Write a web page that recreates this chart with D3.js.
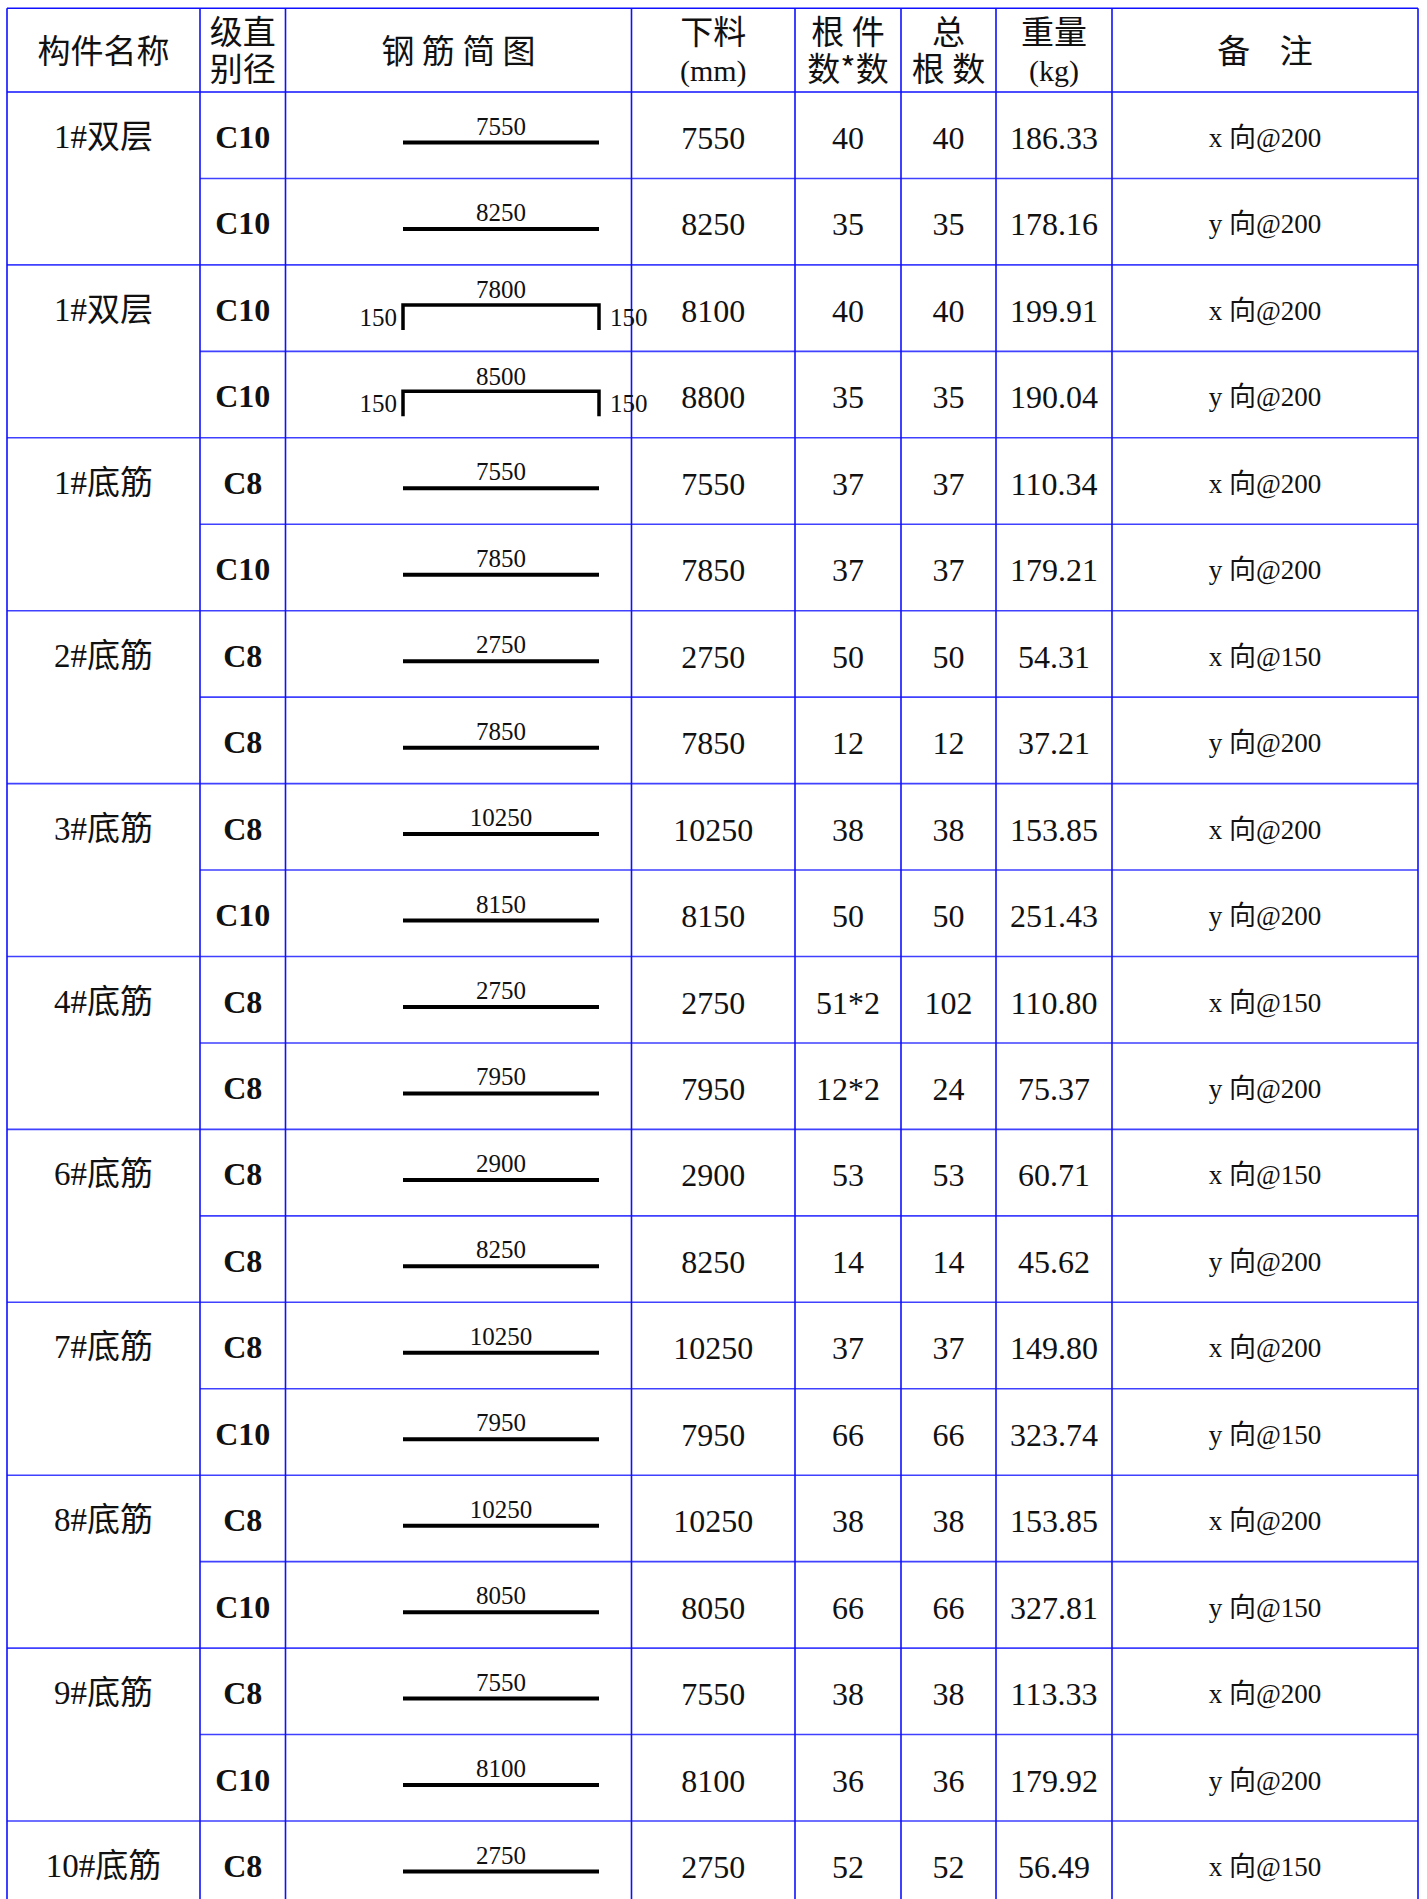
<!DOCTYPE html>
<html>
<head>
<meta charset="utf-8">
<script src="https://cdn.jsdelivr.net/npm/d3@7/dist/d3.min.js"></script>
<style>
  html, body { margin: 0; padding: 0; background: #ffffff; }
  svg { display: block; }
  text { white-space: pre; }
</style>
</head>
<body>
<div id="chart"></div>
<script>
// ---- table data ----
var groupNames = ["1#双层", "1#双层", "1#底筋", "2#底筋", "3#底筋", "4#底筋", "6#底筋", "7#底筋", "8#底筋", "9#底筋", "10#底筋"];
var grades = ["C10", "C10", "C10", "C10", "C8", "C10", "C8", "C8", "C8", "C10", "C8", "C8", "C8", "C8", "C8", "C10", "C8", "C10", "C8", "C10", "C8"];
var shapeLengths = [7550, 8250, 7800, 8500, 7550, 7850, 2750, 7850, 10250, 8150, 2750, 7950, 2900, 8250, 10250, 7950, 10250, 8050, 7550, 8100, 2750];
var hookLengths = [0, 0, 150, 150, 0, 0, 0, 0, 0, 0, 0, 0, 0, 0, 0, 0, 0, 0, 0, 0, 0];
var cutLengths = [7550, 8250, 8100, 8800, 7550, 7850, 2750, 7850, 10250, 8150, 2750, 7950, 2900, 8250, 10250, 7950, 10250, 8050, 7550, 8100, 2750];
var pieceCounts = ["40", "35", "40", "35", "37", "37", "50", "12", "38", "50", "51*2", "12*2", "53", "14", "37", "66", "38", "66", "38", "36", "52"];
var totalCounts = [40, 35, 40, 35, 37, 37, 50, 12, 38, 50, 102, 24, 53, 14, 37, 66, 38, 66, 38, 36, 52];
var weights = ["186.33", "178.16", "199.91", "190.04", "110.34", "179.21", "54.31", "37.21", "153.85", "251.43", "110.80", "75.37", "60.71", "45.62", "149.80", "323.74", "153.85", "327.81", "113.33", "179.92", "56.49"];
var directions = ["x", "y", "x", "y", "x", "y", "x", "y", "x", "y", "x", "y", "x", "y", "x", "y", "x", "y", "x", "y", "x"];
var spacings = [200, 200, 200, 200, 200, 200, 150, 200, 200, 200, 150, 200, 150, 200, 200, 150, 200, 150, 200, 200, 150];

var width = 1427, height = 1899;
var blue = "#1010ff";
var serif = "'Liberation Serif','Times New Roman','Noto Sans CJK SC',serif";
var cjk = "'Noto Sans CJK SC','Liberation Serif',sans-serif";

// column edges: name, grade, sketch, cut, pieces, total, weight, remark
var colEdges = [7, 200, 285.5, 631.5, 795, 901, 996, 1112, 1418];
var colCenter = function (c) { return (colEdges[c] + colEdges[c + 1]) / 2; };

var headerTop = 8.3, headerBottom = 92;
var rowH = 86.45;
var nRows = grades.length;

var y = d3.scaleLinear().domain([0, nRows]).range([headerBottom, headerBottom + nRows * rowH]);
// bar sketch spans a fixed width inside the sketch column
var bx = d3.scaleLinear().domain([0, 1]).range([403, 599]);

var svg = d3.select("#chart").append("svg")
    .attr("width", width)
    .attr("height", height);

// ---- grid ----
var grid = svg.append("g").attr("stroke", blue).attr("stroke-width", 1.6);

grid.append("line")
    .attr("x1", colEdges[0]).attr("x2", colEdges[colEdges.length - 1])
    .attr("y1", headerTop).attr("y2", headerTop);

var hLines = d3.range(0, nRows);
grid.selectAll(".hline").data(hLines).enter().append("line")
    .attr("class", "hline")
    .attr("x1", function (i) { return i % 2 === 0 ? colEdges[0] : colEdges[1]; })
    .attr("x2", colEdges[colEdges.length - 1])
    .attr("y1", function (i) { return y(i); })
    .attr("y2", function (i) { return y(i); })
    .attr("stroke-opacity", function (i) { return i === 0 ? 1 : 0.8; });

grid.selectAll(".vline").data(colEdges).enter().append("line")
    .attr("class", "vline")
    .attr("x1", function (d) { return d; })
    .attr("x2", function (d) { return d; })
    .attr("y1", headerTop)
    .attr("y2", height);

// ---- header ----
var header = svg.append("g").attr("fill", "#111");
var headerCells = [
    {c: 0, lines: [["构件名称", cjk, 33]]},
    {c: 1, lines: [["级直", cjk, 33], ["别径", cjk, 33]]},
    {c: 2, lines: [["钢 筋 简 图", cjk, 33]]},
    {c: 3, lines: [["下料", cjk, 33], ["(mm)", serif, 30]]},
    {c: 4, lines: [["根 件", cjk, 33], ["数*数", cjk, 33]]},
    {c: 5, lines: [["总", cjk, 33], ["根 数", cjk, 33]]},
    {c: 6, lines: [["重量", cjk, 33], ["(kg)", serif, 30]]},
    {c: 7, lines: [["备    注", cjk, 33]]}
];
headerCells.forEach(function (cell) {
    var baselines = cell.lines.length === 1 ? [62.5] : [43.5, 80.5];
    // multi-line headers go into one text element as tspans
    var t = header.append("text")
        .attr("text-anchor", "middle");
    cell.lines.forEach(function (ln, k) {
        t.append("tspan")
            .attr("x", colCenter(cell.c))
            .attr("y", baselines[k])
            .style("font-family", ln[1])
            .style("font-size", ln[2] + "px")
            .text(ln[0]);
    });
});

// ---- group names ----
svg.append("g").selectAll("text").data(groupNames).enter().append("text")
    .attr("x", colCenter(0))
    .attr("y", function (d, i) { return y(i * 2) + 56; })
    .attr("text-anchor", "middle")
    .attr("fill", "#111")
    .style("font-family", serif)
    .style("font-size", "33px")
    .text(function (d) { return d; });

// ---- rows ----
var rows = svg.append("g").selectAll(".row").data(d3.range(nRows)).enter().append("g")
    .attr("class", "row")
    .attr("transform", function (i) { return "translate(0," + y(i) + ")"; });

rows.append("text")
    .attr("x", colCenter(1))
    .attr("y", 56)
    .attr("text-anchor", "middle")
    .attr("fill", "#111")
    .style("font-family", serif)
    .style("font-size", "32px")
    .style("font-weight", "bold")
    .text(function (i) { return grades[i]; });

var valueCols = [
    {c: 3, v: cutLengths},
    {c: 4, v: pieceCounts},
    {c: 5, v: totalCounts},
    {c: 6, v: weights}
];
valueCols.forEach(function (col) {
    rows.append("text")
        .attr("x", colCenter(col.c))
        .attr("y", 57)
        .attr("text-anchor", "middle")
        .attr("fill", "#111")
        .style("font-family", serif)
        .style("font-size", "32px")
        .text(function (i) { return col.v[i]; });
});

rows.append("text")
    .attr("x", colCenter(7))
    .attr("y", 55)
    .attr("text-anchor", "middle")
    .attr("fill", "#111")
    .style("font-family", serif)
    .style("font-size", "27px")
    .text(function (i) { return directions[i] + " 向@" + spacings[i]; });

// ---- bar sketches ----
var straight = rows.filter(function (i) { return !hookLengths[i]; });
var hooked = rows.filter(function (i) { return hookLengths[i]; });

straight.append("line")
    .attr("x1", bx(0)).attr("x2", bx(1))
    .attr("y1", 50.5).attr("y2", 50.5)
    .attr("stroke", "#000")
    .attr("stroke-width", 4);

straight.append("text")
    .attr("x", (bx(0) + bx(1)) / 2)
    .attr("y", 42.5)
    .attr("text-anchor", "middle")
    .attr("fill", "#111")
    .style("font-family", serif)
    .style("font-size", "25px")
    .text(function (i) { return shapeLengths[i]; });

hooked.append("path")
    .attr("d", "M" + bx(0) + ",65V40H" + bx(1) + "V65")
    .attr("fill", "none")
    .attr("stroke", "#000")
    .attr("stroke-width", 3.5);

hooked.append("text")
    .attr("x", (bx(0) + bx(1)) / 2)
    .attr("y", 33.5)
    .attr("text-anchor", "middle")
    .attr("fill", "#111")
    .style("font-family", serif)
    .style("font-size", "25px")
    .text(function (i) { return shapeLengths[i]; });

hooked.append("text")
    .attr("x", bx(0) - 6)
    .attr("y", 61)
    .attr("text-anchor", "end")
    .attr("fill", "#111")
    .style("font-family", serif)
    .style("font-size", "25px")
    .text(function (i) { return hookLengths[i]; });

hooked.append("text")
    .attr("x", bx(1) + 11)
    .attr("y", 61)
    .attr("text-anchor", "start")
    .attr("fill", "#111")
    .style("font-family", serif)
    .style("font-size", "25px")
    .text(function (i) { return hookLengths[i]; });
</script>
</body>
</html>
